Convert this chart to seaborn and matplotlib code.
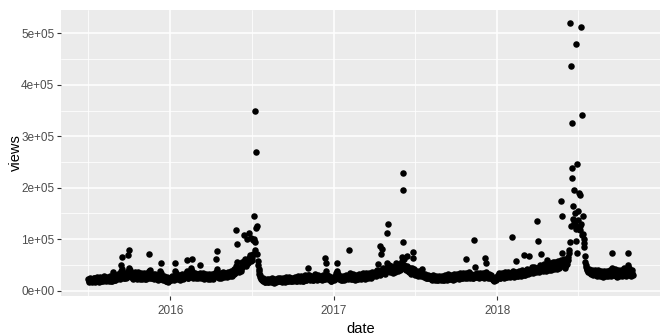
import numpy as np
import pandas as pd
import matplotlib
matplotlib.use("Agg")
import matplotlib.pyplot as plt
import matplotlib.dates as mdates
import matplotlib.ticker as mticker
import seaborn as sns

# Daily views (thousands), one inner list per month
views_2015 = [  # Jul .. Dec
    [22,19,17,18,21,24,23,20,18,17,19,22,25,24,21,19,16,18,23,26,22,20,18,17,20,24,27,23,19,18,21],
    [23,20,19,22,26,28,24,21,18,20,23,27,25,22,20,19,21,25,29,26,22,19,18,24,31,36,28,23,21,20,24],
    [27,25,22,24,28,33,30,26,23,29,35,50,38,66,42,31,27,25,24,29,35,30,27,24,26,32,38,33,70,45],
    [80,40,31,28,26,30,34,29,25,23,27,31,36,30,26,24,22,28,33,37,30,26,24,23,29,34,31,27,25,22,24],
    [28,32,35,29,26,23,22,27,31,34,30,27,25,38,72,40,30,27,25,24,29,33,31,28,25,23,27,32,30,26],
    [24,22,21,26,30,28,25,23,38,54,35,27,24,22,21,25,29,27,24,20,19,18,22,26,19,17,18,21,24,23,20],
]
views_2016 = [
    [22,20,23,26,28,25,23,21,24,27,38,53,34,26,24,22,25,29,31,28,25,23,21,24,28,33,30,26,24,22,25],
    [28,31,29,26,35,60,38,28,25,24,27,30,33,36,40,44,62,38,29,26,24,27,31,34,30,27,25,28,32],
    [30,27,25,28,33,49,35,29,26,24,27,31,34,30,27,25,23,26,30,33,29,26,24,22,25,29,32,28,25,23,26],
    [29,33,30,27,24,23,28,32,35,31,36,62,78,42,33,29,26,25,30,34,31,28,26,24,29,33,36,31,28,26],
    [29,32,35,31,28,27,30,34,37,33,30,28,31,35,39,34,31,29,33,38,42,36,33,35,40,48,117,55,90,45,40],
    [38,36,40,44,41,38,42,46,50,55,52,48,58,109,62,55,50,48,53,101,60,57,54,64,112,70,65,58,103,62],
    [60,66,99,72,101,146,80,350,95,121,270,125,72,58,50,42,38,33,30,27,25,23,21,22,24,20,18,19,21,17,16],
    [18,20,22,19,17,16,18,21,23,20,18,17,19,22,24,21,19,16,15,18,21,23,20,18,17,19,22,25,21,19,18],
    [20,22,24,21,19,17,18,21,25,23,20,18,17,19,22,26,23,21,19,18,20,23,27,24,21,19,18,22,25,23],
    [20,19,21,24,27,23,21,19,18,22,26,29,25,22,20,19,21,24,28,25,22,20,18,19,23,27,30,26,22,20,21],
    [23,26,30,45,31,24,22,21,23,27,29,26,23,21,20,22,25,28,32,27,24,22,21,23,26,30,27,24,22,25],
    [27,24,22,21,25,28,31,27,24,22,23,64,38,53,30,26,24,22,25,28,26,23,21,19,18,20,22,24,27,25,22],
]
views_2017 = [
    [21,23,25,27,30,34,38,53,32,27,24,22,25,28,26,23,21,20,24,27,29,26,23,21,22,25,28,31,27,24,22],
    [24,27,30,80,34,28,25,23,22,26,29,32,28,25,23,21,24,28,31,27,24,22,23,26,30,33,29,26],
    [24,22,25,29,32,35,30,27,25,23,26,30,34,31,28,26,24,27,31,35,32,29,27,25,28,32,36,33,30,28,31],
    [34,37,33,30,28,32,36,40,35,52,38,33,31,86,41,72,36,34,82,39,44,38,35,33,37,41,45,40,54,113],
    [45,130,50,42,38,36,40,44,48,42,38,35,37,41,46,43,39,36,40,54,45,41,38,42,47,51,44,40,43,48,52],
    [58,65,196,228,95,62,50,45,42,40,44,48,68,46,41,38,36,40,44,39,35,33,37,41,45,64,76,43,38,35],
    [33,31,35,38,34,31,29,32,36,39,35,32,30,28,31,34,43,33,30,28,27,30,33,29,27,25,24,28,31,27,25],
    [24,26,29,27,24,22,21,25,28,30,26,24,22,21,23,27,29,26,23,21,20,24,27,29,25,23,21,22,26,28,25],
    [23,21,20,24,28,31,27,24,22,21,25,29,32,28,25,23,22,26,30,27,24,22,21,25,29,33,28,25,23,24],
    [27,30,33,29,26,24,23,27,31,34,30,27,25,24,28,32,35,31,28,26,25,62,34,30,27,25,29,33,36,31,28],
    [26,25,29,33,30,27,25,24,28,99,47,33,29,27,26,30,34,31,28,26,25,29,33,35,31,28,26,27,31,34],
    [30,27,25,28,64,36,54,31,28,26,25,29,33,30,27,25,24,28,31,27,24,22,20,19,21,23,22,20,24,27,25],
]
views_2018 = [  # Jan .. Oct
    [26,28,31,34,30,27,25,24,28,32,35,31,28,26,25,29,33,36,32,29,27,26,30,34,37,33,30,28,27,31,35],
    [32,29,104,38,31,28,27,30,34,37,33,57,36,31,29,28,32,36,39,34,31,29,30,34,38,41,36,33],
    [30,70,38,33,31,35,39,42,37,34,32,36,68,41,37,35,39,43,46,40,37,35,38,42,47,43,39,36,40,44,136],
    [97,45,40,37,41,46,50,44,72,48,43,40,38,42,47,51,45,41,39,43,48,60,52,46,42,40,44,49,53,47],
    [43,41,45,50,55,48,44,42,46,51,56,49,45,43,47,52,58,50,46,44,48,55,60,175,146,74,52,48,50,56,62],
    [48,45,50,55,52,58,62,66,60,80,74,95,520,126,436,238,325,218,165,140,195,132,128,150,120,480,97,74,247,138],
    [155,120,189,185,118,125,130,512,108,342,146,111,92,85,100,68,55,50,46,42,40,38,36,39,43,41,37,35,33,36,40],
    [38,35,32,30,33,37,41,36,33,31,29,32,36,40,35,32,30,28,31,35,39,34,31,29,27,30,34,38,33,30,28],
    [31,35,39,34,31,29,32,36,41,37,33,30,28,74,45,36,32,30,33,38,42,36,32,29,27,31,35,40,34,31],
    [29,32,37,41,35,31,28,30,34,39,44,38,33,30,29,33,38,43,37,50,74,45,36,32,30,28,31,36,40,34,30],
]
y_ticks = [0, 100000, 200000, 300000, 400000, 500000]
y_tick_labels = ["0e+00", "1e+05", "2e+05", "3e+05", "4e+05", "5e+05"]
x_tick_years = ["2016", "2017", "2018"]

# Build the long table
rows_d, rows_v = [], []
for year, first_month, months in [(2015, 7, views_2015), (2016, 1, views_2016),
                                  (2017, 1, views_2017), (2018, 1, views_2018)]:
    for k, vals in enumerate(months):
        start = pd.Timestamp(year, first_month + k, 1)
        for i, v in enumerate(vals):
            rows_d.append(start + pd.Timedelta(days=i))
            rows_v.append(v * 1000)
df = pd.DataFrame({"date": rows_d, "views": rows_v})

sns.set_theme(style="darkgrid", rc={
    "axes.facecolor": "#EBEBEB",
    "grid.color": "white",
})
plt.rcParams["font.family"] = ["Liberation Sans", "DejaVu Sans"]

fig = plt.figure(figsize=(6.65, 3.35), dpi=100)
ax = fig.add_axes([61/665, 1 - 296/335, (660 - 61)/665, (296 - 10)/335])

sns.scatterplot(data=df, x="date", y="views", color="black", s=22,
                linewidth=0, ax=ax, zorder=3)

# ggplot-like 5% expansion
dmin, dmax = df["date"].min(), df["date"].max()
span = dmax - dmin
ax.set_xlim(dmin - 0.05 * span, dmax + 0.05 * span)
vmin, vmax = df["views"].min(), df["views"].max()
vr = vmax - vmin
ax.set_ylim(vmin - 0.05 * vr, vmax + 0.05 * vr)

ax.set_yticks(y_ticks)
ax.set_yticklabels(y_tick_labels)
ax.yaxis.set_minor_locator(mticker.MultipleLocator(50000))
ax.set_xticks([pd.Timestamp(int(y), 1, 1) for y in x_tick_years])
ax.set_xticklabels(x_tick_years)
ax.set_xticks([pd.Timestamp(y, 7, 1) for y in [2015, 2016, 2017, 2018]], minor=True)

ax.grid(which="major", color="white", linewidth=1.1)
ax.grid(which="minor", color="white", linewidth=0.55)
ax.set_axisbelow(True)
for s in ax.spines.values():
    s.set_visible(False)

ax.tick_params(axis="both", which="major", length=2.8, width=0.8, color="#333333",
               labelsize=8.5, labelcolor="#4D4D4D", bottom=True, left=True)
ax.tick_params(axis="x", which="major", pad=4)
ax.tick_params(axis="y", which="major", pad=2)
ax.tick_params(axis="both", which="minor", length=0, bottom=False, left=False)

ax.set_xlabel("date", fontsize=10.5, color="black", labelpad=3)
ax.set_ylabel("views", fontsize=10.5, color="black", labelpad=-1)

fig.savefig("out.png", dpi=100)
